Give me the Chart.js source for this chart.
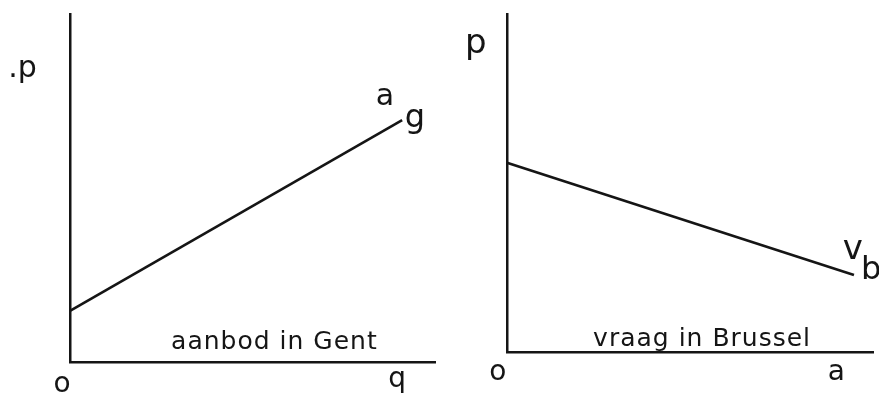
<!DOCTYPE html>
<html><head><meta charset="utf-8">
<script src="https://cdn.jsdelivr.net/npm/chart.js@4"></script>
<style>
html,body{margin:0;padding:0;background:#fff;}
#wrap{position:relative;width:879px;height:393px;}
.c{position:absolute;top:0;}
</style></head>
<body><div id="wrap">
<div class="c" style="left:0;width:440px;height:393px"><canvas id="left"></canvas></div>
<div class="c" style="left:440px;width:439px;height:393px"><canvas id="right"></canvas></div>
</div>
<script>
// ---- data ----
const supplyQ = [0, 9.1];          // aanbod in Gent (q)
const supplyP = [1.47, 6.95];      // price
const demandQ = [0, 9.48];         // vraag in Brussel (q)
const demandP = [5.6, 2.28];       // price
const leftTexts  = ['.p', 'a', 'g', 'o', 'q', 'aanbod in Gent'];
const rightTexts = ['p', 'v', 'b', 'o', 'a', 'vraag in Brussel'];

// label anchor positions (in data units) and font sizes
const leftPos  = [[-1.3, 8.4, 30], [8.63, 7.6, 30], [9.45, 7.0, 32], [-0.22, -0.64, 28], [8.96, -0.5, 28], [5.6, 0.55, 25]];
const rightPos = [[-0.85, 9.1, 34], [9.45, 3.0, 34], [9.95, 2.4, 32], [-0.25, -0.62, 28], [9.0, -0.6, 28], [5.33, 0.38, 25]];

const ink = '#151515';

const textPlugin = {
  id: 'texts',
  afterDraw(chart) {
    const o = chart.options.plugins.texts;
    const ctx = chart.ctx, xs = chart.scales.x, ys = chart.scales.y;
    ctx.save();
    ctx.fillStyle = ink;
    ctx.textAlign = 'center';
    ctx.textBaseline = 'middle';
    o.texts.forEach((t, i) => {
      const [x, y, s] = o.pos[i];
      ctx.font = s + 'px "DejaVu Sans"';
      ctx.letterSpacing = t.length > 3 ? '1px' : '0px';
      ctx.fillText(t, xs.getPixelForValue(x), ys.getPixelForValue(y));
    });
    ctx.restore();
  }
};

function axis() {
  return {
    type: 'linear', min: 0, max: 10,
    grid: { display: false, drawTicks: false },
    border: { display: true, color: ink, width: 2.5 },
    ticks: { display: false }
  };
}

function make(id, qs, ps, texts, pos, pad) {
  new Chart(document.getElementById(id), {
    type: 'scatter',
    data: { datasets: [{
      data: qs.map((q, i) => ({ x: q, y: ps[i] })),
      showLine: true, borderColor: ink, borderWidth: 2.6, pointRadius: 0, clip: false
    }]},
    options: {
      responsive: true, maintainAspectRatio: false, animation: false,
      layout: { padding: pad },
      plugins: { legend: { display: false }, tooltip: { enabled: false },
                 texts: { texts: texts, pos: pos } },
      scales: { x: axis(), y: axis() }
    },
    plugins: [textPlugin]
  });
}

make('left', supplyQ, supplyP, leftTexts, leftPos, { left: 70, top: 14, right: 5, bottom: 31 });
make('right', demandQ, demandP, rightTexts, rightPos, { left: 67, top: 14, right: 6, bottom: 41 });
</script>
</body></html>
